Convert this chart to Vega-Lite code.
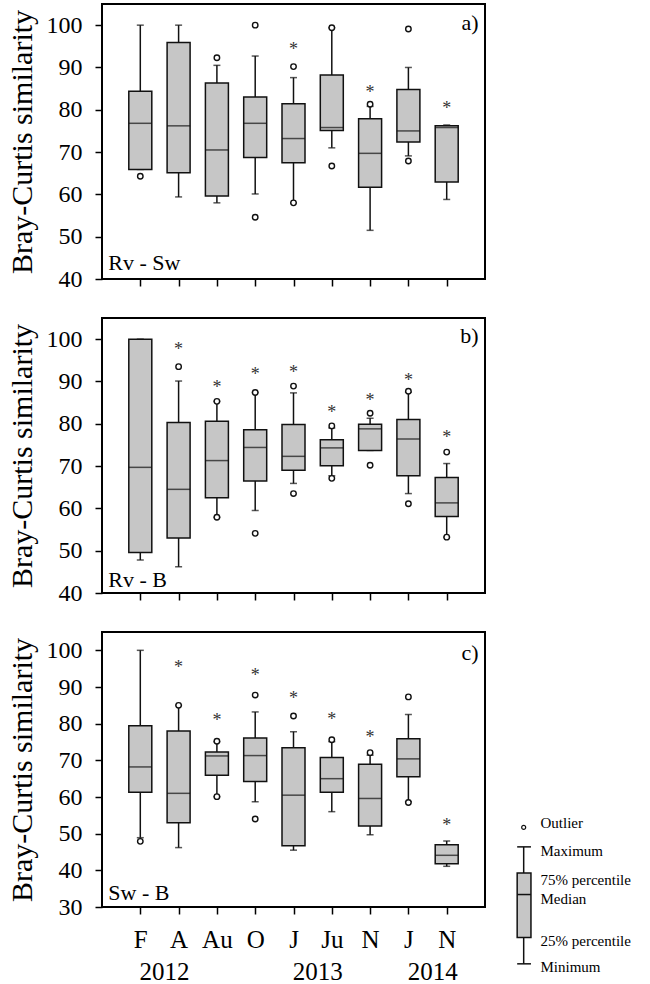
{
  "$schema": "https://vega.github.io/schema/vega-lite/v6.json",
  "background": "white",
  "padding": {"left": 5, "top": 3, "right": 0, "bottom": 0},
  "spacing": 25,
  "config": {
    "view": {"stroke": "#000", "strokeWidth": 2},
    "font": "Liberation Serif",
    "axis": {"domain": false, "grid": false, "tickColor": "#000", "tickWidth": 1.5, "tickSize": 7, "labelFont": "Liberation Serif", "labelFontSize": 24, "labelColor": "#000", "labelPadding": 13, "labelOverlap": false, "titleFont": "Liberation Serif", "titleFontSize": 30, "titleFontWeight": "normal", "titleColor": "#000", "titlePadding": 9},
    "axisX": {"labelAngle": 0},
    "axisY": {"tickCount": 8},
    "text": {"font": "Liberation Serif", "color": "#000"}
  },
  "datasets": {
    "stats": [
      {"panel": "a", "period": "F-2012", "min": 65.9, "q1": 65.9, "med": 76.8, "q3": 84.4, "max": 100},
      {"panel": "a", "period": "A-2012", "min": 59.4, "q1": 65.1, "med": 76.2, "q3": 95.9, "max": 100},
      {"panel": "a", "period": "Au-2012", "min": 58.0, "q1": 59.6, "med": 70.5, "q3": 86.3, "max": 90.5},
      {"panel": "a", "period": "O-2012", "min": 60.1, "q1": 68.7, "med": 76.8, "q3": 83.0, "max": 92.7},
      {"panel": "a", "period": "J-2013", "min": 58.0, "q1": 67.5, "med": 73.2, "q3": 81.4, "max": 87.6},
      {"panel": "a", "period": "Ju-2013", "min": 71.0, "q1": 75.1, "med": 75.8, "q3": 88.2, "max": 99.4},
      {"panel": "a", "period": "N-2013", "min": 51.5, "q1": 61.7, "med": 69.7, "q3": 77.9, "max": 80.8},
      {"panel": "a", "period": "J-2014", "min": 69.1, "q1": 72.4, "med": 75.0, "q3": 84.8, "max": 90.0},
      {"panel": "a", "period": "N-2014", "min": 58.8, "q1": 62.9, "med": 75.8, "q3": 76.2, "max": 76.4},
      {"panel": "b", "period": "F-2012", "min": 47.8, "q1": 49.6, "med": 69.7, "q3": 100, "max": 100},
      {"panel": "b", "period": "A-2012", "min": 46.2, "q1": 53.0, "med": 64.5, "q3": 80.3, "max": 90.1},
      {"panel": "b", "period": "Au-2012", "min": 57.9, "q1": 62.5, "med": 71.3, "q3": 80.6, "max": 85.3},
      {"panel": "b", "period": "O-2012", "min": 59.5, "q1": 66.5, "med": 74.4, "q3": 78.6, "max": 87.4},
      {"panel": "b", "period": "J-2013", "min": 65.9, "q1": 69.0, "med": 72.3, "q3": 79.8, "max": 87.3},
      {"panel": "b", "period": "Ju-2013", "min": 67.7, "q1": 70.1, "med": 74.3, "q3": 76.2, "max": 79.0},
      {"panel": "b", "period": "N-2013", "min": 73.7, "q1": 73.7, "med": 78.8, "q3": 79.9, "max": 81.3},
      {"panel": "b", "period": "J-2014", "min": 63.5, "q1": 67.7, "med": 76.4, "q3": 81.0, "max": 87.5},
      {"panel": "b", "period": "N-2014", "min": 53.2, "q1": 58.1, "med": 61.3, "q3": 67.3, "max": 70.6},
      {"panel": "c", "period": "F-2012", "min": 48.9, "q1": 61.3, "med": 68.2, "q3": 79.4, "max": 100},
      {"panel": "c", "period": "A-2012", "min": 46.2, "q1": 53.0, "med": 61.0, "q3": 78.0, "max": 85.0},
      {"panel": "c", "period": "Au-2012", "min": 60.1, "q1": 65.9, "med": 71.2, "q3": 72.3, "max": 75.1},
      {"panel": "c", "period": "O-2012", "min": 58.7, "q1": 64.2, "med": 71.3, "q3": 76.1, "max": 83.2},
      {"panel": "c", "period": "J-2013", "min": 45.5, "q1": 46.7, "med": 60.5, "q3": 73.4, "max": 77.8},
      {"panel": "c", "period": "Ju-2013", "min": 56.0, "q1": 61.3, "med": 65.0, "q3": 70.8, "max": 75.1},
      {"panel": "c", "period": "N-2013", "min": 49.7, "q1": 52.1, "med": 59.6, "q3": 68.9, "max": 71.4},
      {"panel": "c", "period": "J-2014", "min": 58.7, "q1": 65.5, "med": 70.4, "q3": 75.9, "max": 82.5},
      {"panel": "c", "period": "N-2014", "min": 41.1, "q1": 41.8, "med": 44.1, "q3": 47.0, "max": 48.0}
    ],
    "outliers": [
      {"panel": "a", "period": "F-2012", "value": 64.3},
      {"panel": "a", "period": "Au-2012", "value": 92.3},
      {"panel": "a", "period": "O-2012", "value": 100},
      {"panel": "a", "period": "O-2012", "value": 54.6},
      {"panel": "a", "period": "J-2013", "value": 90.2},
      {"panel": "a", "period": "J-2013", "value": 58.0},
      {"panel": "a", "period": "Ju-2013", "value": 99.4},
      {"panel": "a", "period": "Ju-2013", "value": 66.7},
      {"panel": "a", "period": "N-2013", "value": 81.3},
      {"panel": "a", "period": "J-2014", "value": 99.1},
      {"panel": "a", "period": "J-2014", "value": 67.9},
      {"panel": "b", "period": "A-2012", "value": 93.5},
      {"panel": "b", "period": "Au-2012", "value": 85.3},
      {"panel": "b", "period": "Au-2012", "value": 57.9},
      {"panel": "b", "period": "O-2012", "value": 87.4},
      {"panel": "b", "period": "O-2012", "value": 54.1},
      {"panel": "b", "period": "J-2013", "value": 88.9},
      {"panel": "b", "period": "J-2013", "value": 63.5},
      {"panel": "b", "period": "Ju-2013", "value": 79.5},
      {"panel": "b", "period": "Ju-2013", "value": 67.1},
      {"panel": "b", "period": "N-2013", "value": 82.5},
      {"panel": "b", "period": "N-2013", "value": 70.2},
      {"panel": "b", "period": "J-2014", "value": 87.7},
      {"panel": "b", "period": "J-2014", "value": 61.1},
      {"panel": "b", "period": "N-2014", "value": 73.3},
      {"panel": "b", "period": "N-2014", "value": 53.2},
      {"panel": "c", "period": "F-2012", "value": 47.9},
      {"panel": "c", "period": "A-2012", "value": 85.0},
      {"panel": "c", "period": "Au-2012", "value": 75.2},
      {"panel": "c", "period": "Au-2012", "value": 60.1},
      {"panel": "c", "period": "O-2012", "value": 87.8},
      {"panel": "c", "period": "O-2012", "value": 54.0},
      {"panel": "c", "period": "J-2013", "value": 82.1},
      {"panel": "c", "period": "Ju-2013", "value": 75.6},
      {"panel": "c", "period": "N-2013", "value": 72.1},
      {"panel": "c", "period": "J-2014", "value": 87.3},
      {"panel": "c", "period": "J-2014", "value": 58.5}
    ],
    "stars": [
      {"panel": "a", "period": "J-2013", "value": 95.1},
      {"panel": "a", "period": "N-2013", "value": 84.8},
      {"panel": "a", "period": "N-2014", "value": 81.1},
      {"panel": "b", "period": "A-2012", "value": 98.4},
      {"panel": "b", "period": "Au-2012", "value": 89.3},
      {"panel": "b", "period": "O-2012", "value": 92.5},
      {"panel": "b", "period": "J-2013", "value": 92.9},
      {"panel": "b", "period": "Ju-2013", "value": 83.6},
      {"panel": "b", "period": "N-2013", "value": 86.3},
      {"panel": "b", "period": "J-2014", "value": 91.1},
      {"panel": "b", "period": "N-2014", "value": 77.5},
      {"panel": "c", "period": "A-2012", "value": 96.4},
      {"panel": "c", "period": "Au-2012", "value": 81.9},
      {"panel": "c", "period": "O-2012", "value": 94.1},
      {"panel": "c", "period": "J-2013", "value": 87.9},
      {"panel": "c", "period": "Ju-2013", "value": 82.0},
      {"panel": "c", "period": "N-2013", "value": 77.1},
      {"panel": "c", "period": "N-2014", "value": 53.3}
    ],
    "labels": [
      {"panel": "a", "corner": "a)", "pair": "Rv - Sw"},
      {"panel": "b", "corner": "b)", "pair": "Rv - B"},
      {"panel": "c", "corner": "c)", "pair": "Sw - B"}
    ],
    "years": [
      {"year": "2012", "period": "A-2012"},
      {"year": "2013", "period": "Ju-2013"},
      {"year": "2014", "period": "N-2014"}
    ],
    "legendBox": [
      {"min": 14.5, "q1": 21.7, "med": 33.4, "q3": 39.3, "max": 46.4, "outlier": 51.7}
    ],
    "legendText": [
      {"label": "Outlier", "v": 52.9},
      {"label": "Maximum", "v": 45.4},
      {"label": "75% percentile", "v": 37.4},
      {"label": "Median", "v": 32.2},
      {"label": "25% percentile", "v": 20.8},
      {"label": "Minimum", "v": 13.6}
    ]
  },
  "vconcat": [
    {
      "width": 383, "height": 275,
      "layer": [
        {"data": {"name": "stats"}, "transform": [{"filter": "datum.panel=='a'"}], "mark": {"type": "rule", "color": "#111", "strokeWidth": 1.5},
         "encoding": {"x": {"field": "period", "type": "nominal", "scale": {"type": "point", "padding": 1, "domain": ["F-2012", "A-2012", "Au-2012", "O-2012", "J-2013", "Ju-2013", "N-2013", "J-2014", "N-2014"]}, "axis": {"title": null, "labels": false}},
                      "y": {"field": "min", "type": "quantitative", "scale": {"domain": [40, 105], "nice": false, "zero": false}, "axis": {"values": [40, 50, 60, 70, 80, 90, 100], "tickCount": 8, "labelOverlap": false, "title": "Bray-Curtis similarity"}},
                      "y2": {"field": "max"}}},
        {"data": {"name": "stats"}, "transform": [{"filter": "datum.panel=='a'"}], "mark": {"type": "tick", "color": "#111", "thickness": 1.5, "size": 7},
         "encoding": {"x": {"field": "period", "type": "nominal", "title": null}, "y": {"field": "min", "type": "quantitative", "axis": {"values": [40, 50, 60, 70, 80, 90, 100], "tickCount": 8, "labelOverlap": false, "title": "Bray-Curtis similarity"}}}},
        {"data": {"name": "stats"}, "transform": [{"filter": "datum.panel=='a'"}], "mark": {"type": "tick", "color": "#111", "thickness": 1.5, "size": 7},
         "encoding": {"x": {"field": "period", "type": "nominal", "title": null}, "y": {"field": "max", "type": "quantitative", "axis": {"values": [40, 50, 60, 70, 80, 90, 100], "tickCount": 8, "labelOverlap": false, "title": "Bray-Curtis similarity"}}}},
        {"data": {"name": "stats"}, "transform": [{"filter": "datum.panel=='a'"}], "mark": {"type": "bar", "fill": "#c6c6c6", "stroke": "#111", "strokeWidth": 1.5, "size": 23},
         "encoding": {"x": {"field": "period", "type": "nominal", "title": null}, "y": {"field": "q1", "type": "quantitative", "axis": {"values": [40, 50, 60, 70, 80, 90, 100], "tickCount": 8, "labelOverlap": false, "title": "Bray-Curtis similarity"}}, "y2": {"field": "q3"}}},
        {"data": {"name": "stats"}, "transform": [{"filter": "datum.panel=='a'"}], "mark": {"type": "tick", "color": "#111", "thickness": 1.5, "size": 23},
         "encoding": {"x": {"field": "period", "type": "nominal", "title": null}, "y": {"field": "med", "type": "quantitative", "axis": {"values": [40, 50, 60, 70, 80, 90, 100], "tickCount": 8, "labelOverlap": false, "title": "Bray-Curtis similarity"}}}},
        {"data": {"name": "outliers"}, "transform": [{"filter": "datum.panel=='a'"}], "mark": {"type": "point", "shape": "circle", "fill": "white", "stroke": "#111", "strokeWidth": 1.4, "size": 30, "opacity": 1},
         "encoding": {"x": {"field": "period", "type": "nominal", "title": null}, "y": {"field": "value", "type": "quantitative", "axis": {"values": [40, 50, 60, 70, 80, 90, 100], "tickCount": 8, "labelOverlap": false, "title": "Bray-Curtis similarity"}}}},
        {"data": {"name": "stars"}, "transform": [{"filter": "datum.panel=='a'"}], "mark": {"type": "text", "text": "*", "fontSize": 18, "color": "#333", "baseline": "alphabetic", "dy": 9},
         "encoding": {"x": {"field": "period", "type": "nominal", "title": null}, "y": {"field": "value", "type": "quantitative", "axis": {"values": [40, 50, 60, 70, 80, 90, 100], "tickCount": 8, "labelOverlap": false, "title": "Bray-Curtis similarity"}}}},
        {"data": {"name": "labels"}, "transform": [{"filter": "datum.panel=='a'"}], "mark": {"type": "text", "fontSize": 22, "align": "right", "baseline": "middle", "dx": 32},
         "encoding": {"x": {"datum": "N-2014", "type": "nominal"}, "y": {"datum": 100.5, "type": "quantitative", "axis": {"values": [40, 50, 60, 70, 80, 90, 100], "tickCount": 8, "labelOverlap": false, "title": "Bray-Curtis similarity"}}, "text": {"field": "corner"}}},
        {"data": {"name": "labels"}, "transform": [{"filter": "datum.panel=='a'"}], "mark": {"type": "text", "fontSize": 22, "align": "left", "baseline": "middle", "dx": -32},
         "encoding": {"x": {"datum": "F-2012", "type": "nominal"}, "y": {"datum": 43.8, "type": "quantitative", "axis": {"values": [40, 50, 60, 70, 80, 90, 100], "tickCount": 8, "labelOverlap": false, "title": "Bray-Curtis similarity"}}, "text": {"field": "pair"}}}
      ]
    },
    {
      "width": 383, "height": 275,
      "layer": [
        {"data": {"name": "stats"}, "transform": [{"filter": "datum.panel=='b'"}], "mark": {"type": "rule", "color": "#111", "strokeWidth": 1.5},
         "encoding": {"x": {"field": "period", "type": "nominal", "scale": {"type": "point", "padding": 1, "domain": ["F-2012", "A-2012", "Au-2012", "O-2012", "J-2013", "Ju-2013", "N-2013", "J-2014", "N-2014"]}, "axis": {"title": null, "labels": false}},
                      "y": {"field": "min", "type": "quantitative", "scale": {"domain": [40, 105], "nice": false, "zero": false}, "axis": {"values": [40, 50, 60, 70, 80, 90, 100], "tickCount": 8, "labelOverlap": false, "title": "Bray-Curtis similarity"}},
                      "y2": {"field": "max"}}},
        {"data": {"name": "stats"}, "transform": [{"filter": "datum.panel=='b'"}], "mark": {"type": "tick", "color": "#111", "thickness": 1.5, "size": 7},
         "encoding": {"x": {"field": "period", "type": "nominal", "title": null}, "y": {"field": "min", "type": "quantitative", "axis": {"values": [40, 50, 60, 70, 80, 90, 100], "tickCount": 8, "labelOverlap": false, "title": "Bray-Curtis similarity"}}}},
        {"data": {"name": "stats"}, "transform": [{"filter": "datum.panel=='b'"}], "mark": {"type": "tick", "color": "#111", "thickness": 1.5, "size": 7},
         "encoding": {"x": {"field": "period", "type": "nominal", "title": null}, "y": {"field": "max", "type": "quantitative", "axis": {"values": [40, 50, 60, 70, 80, 90, 100], "tickCount": 8, "labelOverlap": false, "title": "Bray-Curtis similarity"}}}},
        {"data": {"name": "stats"}, "transform": [{"filter": "datum.panel=='b'"}], "mark": {"type": "bar", "fill": "#c6c6c6", "stroke": "#111", "strokeWidth": 1.5, "size": 23},
         "encoding": {"x": {"field": "period", "type": "nominal", "title": null}, "y": {"field": "q1", "type": "quantitative", "axis": {"values": [40, 50, 60, 70, 80, 90, 100], "tickCount": 8, "labelOverlap": false, "title": "Bray-Curtis similarity"}}, "y2": {"field": "q3"}}},
        {"data": {"name": "stats"}, "transform": [{"filter": "datum.panel=='b'"}], "mark": {"type": "tick", "color": "#111", "thickness": 1.5, "size": 23},
         "encoding": {"x": {"field": "period", "type": "nominal", "title": null}, "y": {"field": "med", "type": "quantitative", "axis": {"values": [40, 50, 60, 70, 80, 90, 100], "tickCount": 8, "labelOverlap": false, "title": "Bray-Curtis similarity"}}}},
        {"data": {"name": "outliers"}, "transform": [{"filter": "datum.panel=='b'"}], "mark": {"type": "point", "shape": "circle", "fill": "white", "stroke": "#111", "strokeWidth": 1.4, "size": 30, "opacity": 1},
         "encoding": {"x": {"field": "period", "type": "nominal", "title": null}, "y": {"field": "value", "type": "quantitative", "axis": {"values": [40, 50, 60, 70, 80, 90, 100], "tickCount": 8, "labelOverlap": false, "title": "Bray-Curtis similarity"}}}},
        {"data": {"name": "stars"}, "transform": [{"filter": "datum.panel=='b'"}], "mark": {"type": "text", "text": "*", "fontSize": 18, "color": "#333", "baseline": "alphabetic", "dy": 9},
         "encoding": {"x": {"field": "period", "type": "nominal", "title": null}, "y": {"field": "value", "type": "quantitative", "axis": {"values": [40, 50, 60, 70, 80, 90, 100], "tickCount": 8, "labelOverlap": false, "title": "Bray-Curtis similarity"}}}},
        {"data": {"name": "labels"}, "transform": [{"filter": "datum.panel=='b'"}], "mark": {"type": "text", "fontSize": 22, "align": "right", "baseline": "middle", "dx": 32},
         "encoding": {"x": {"datum": "N-2014", "type": "nominal"}, "y": {"datum": 100.7, "type": "quantitative", "axis": {"values": [40, 50, 60, 70, 80, 90, 100], "tickCount": 8, "labelOverlap": false, "title": "Bray-Curtis similarity"}}, "text": {"field": "corner"}}},
        {"data": {"name": "labels"}, "transform": [{"filter": "datum.panel=='b'"}], "mark": {"type": "text", "fontSize": 22, "align": "left", "baseline": "middle", "dx": -32},
         "encoding": {"x": {"datum": "F-2012", "type": "nominal"}, "y": {"datum": 43.1, "type": "quantitative", "axis": {"values": [40, 50, 60, 70, 80, 90, 100], "tickCount": 8, "labelOverlap": false, "title": "Bray-Curtis similarity"}}, "text": {"field": "pair"}}}
      ]
    },
    {
      "width": 383, "height": 275,
      "resolve": {"scale": {"x": "independent"}},
      "layer": [
        {"data": {"name": "stats"}, "transform": [{"filter": "datum.panel=='c'"}], "mark": {"type": "rule", "color": "#111", "strokeWidth": 1.5},
         "encoding": {"x": {"field": "period", "type": "nominal", "scale": {"type": "point", "padding": 1, "domain": ["F-2012", "A-2012", "Au-2012", "O-2012", "J-2013", "Ju-2013", "N-2013", "J-2014", "N-2014"]}, "axis": {"title": null, "labelExpr": "split(datum.label,'-')[0]", "labelFontSize": 25, "labelPadding": 13}},
                      "y": {"field": "min", "type": "quantitative", "scale": {"domain": [30, 105], "nice": false, "zero": false}, "axis": {"values": [30, 40, 50, 60, 70, 80, 90, 100], "tickCount": 8, "labelOverlap": false, "title": "Bray-Curtis similarity"}},
                      "y2": {"field": "max"}}},
        {"data": {"name": "stats"}, "transform": [{"filter": "datum.panel=='c'"}], "mark": {"type": "tick", "color": "#111", "thickness": 1.5, "size": 7},
         "encoding": {"x": {"field": "period", "type": "nominal", "scale": {"type": "point", "padding": 1, "domain": ["F-2012", "A-2012", "Au-2012", "O-2012", "J-2013", "Ju-2013", "N-2013", "J-2014", "N-2014"]}, "axis": null}, "y": {"field": "min", "type": "quantitative", "axis": {"values": [30, 40, 50, 60, 70, 80, 90, 100], "tickCount": 8, "labelOverlap": false, "title": "Bray-Curtis similarity"}}}},
        {"data": {"name": "stats"}, "transform": [{"filter": "datum.panel=='c'"}], "mark": {"type": "tick", "color": "#111", "thickness": 1.5, "size": 7},
         "encoding": {"x": {"field": "period", "type": "nominal", "scale": {"type": "point", "padding": 1, "domain": ["F-2012", "A-2012", "Au-2012", "O-2012", "J-2013", "Ju-2013", "N-2013", "J-2014", "N-2014"]}, "axis": null}, "y": {"field": "max", "type": "quantitative", "axis": {"values": [30, 40, 50, 60, 70, 80, 90, 100], "tickCount": 8, "labelOverlap": false, "title": "Bray-Curtis similarity"}}}},
        {"data": {"name": "stats"}, "transform": [{"filter": "datum.panel=='c'"}], "mark": {"type": "bar", "fill": "#c6c6c6", "stroke": "#111", "strokeWidth": 1.5, "size": 23},
         "encoding": {"x": {"field": "period", "type": "nominal", "scale": {"type": "point", "padding": 1, "domain": ["F-2012", "A-2012", "Au-2012", "O-2012", "J-2013", "Ju-2013", "N-2013", "J-2014", "N-2014"]}, "axis": null}, "y": {"field": "q1", "type": "quantitative", "axis": {"values": [30, 40, 50, 60, 70, 80, 90, 100], "tickCount": 8, "labelOverlap": false, "title": "Bray-Curtis similarity"}}, "y2": {"field": "q3"}}},
        {"data": {"name": "stats"}, "transform": [{"filter": "datum.panel=='c'"}], "mark": {"type": "tick", "color": "#111", "thickness": 1.5, "size": 23},
         "encoding": {"x": {"field": "period", "type": "nominal", "scale": {"type": "point", "padding": 1, "domain": ["F-2012", "A-2012", "Au-2012", "O-2012", "J-2013", "Ju-2013", "N-2013", "J-2014", "N-2014"]}, "axis": null}, "y": {"field": "med", "type": "quantitative", "axis": {"values": [30, 40, 50, 60, 70, 80, 90, 100], "tickCount": 8, "labelOverlap": false, "title": "Bray-Curtis similarity"}}}},
        {"data": {"name": "outliers"}, "transform": [{"filter": "datum.panel=='c'"}], "mark": {"type": "point", "shape": "circle", "fill": "white", "stroke": "#111", "strokeWidth": 1.4, "size": 30, "opacity": 1},
         "encoding": {"x": {"field": "period", "type": "nominal", "scale": {"type": "point", "padding": 1, "domain": ["F-2012", "A-2012", "Au-2012", "O-2012", "J-2013", "Ju-2013", "N-2013", "J-2014", "N-2014"]}, "axis": null}, "y": {"field": "value", "type": "quantitative", "axis": {"values": [30, 40, 50, 60, 70, 80, 90, 100], "tickCount": 8, "labelOverlap": false, "title": "Bray-Curtis similarity"}}}},
        {"data": {"name": "stars"}, "transform": [{"filter": "datum.panel=='c'"}], "mark": {"type": "text", "text": "*", "fontSize": 18, "color": "#333", "baseline": "alphabetic", "dy": 9},
         "encoding": {"x": {"field": "period", "type": "nominal", "scale": {"type": "point", "padding": 1, "domain": ["F-2012", "A-2012", "Au-2012", "O-2012", "J-2013", "Ju-2013", "N-2013", "J-2014", "N-2014"]}, "axis": null}, "y": {"field": "value", "type": "quantitative", "axis": {"values": [30, 40, 50, 60, 70, 80, 90, 100], "tickCount": 8, "labelOverlap": false, "title": "Bray-Curtis similarity"}}}},
        {"data": {"name": "labels"}, "transform": [{"filter": "datum.panel=='c'"}], "mark": {"type": "text", "fontSize": 22, "align": "right", "baseline": "middle", "dx": 32},
         "encoding": {"x": {"datum": "N-2014", "type": "nominal", "scale": {"type": "point", "padding": 1, "domain": ["F-2012", "A-2012", "Au-2012", "O-2012", "J-2013", "Ju-2013", "N-2013", "J-2014", "N-2014"]}, "axis": null}, "y": {"datum": 99.4, "type": "quantitative", "axis": {"values": [30, 40, 50, 60, 70, 80, 90, 100], "tickCount": 8, "labelOverlap": false, "title": "Bray-Curtis similarity"}}, "text": {"field": "corner"}}},
        {"data": {"name": "labels"}, "transform": [{"filter": "datum.panel=='c'"}], "mark": {"type": "text", "fontSize": 22, "align": "left", "baseline": "middle", "dx": -32},
         "encoding": {"x": {"datum": "F-2012", "type": "nominal", "scale": {"type": "point", "padding": 1, "domain": ["F-2012", "A-2012", "Au-2012", "O-2012", "J-2013", "Ju-2013", "N-2013", "J-2014", "N-2014"]}, "axis": null}, "y": {"datum": 33.8, "type": "quantitative", "axis": {"values": [30, 40, 50, 60, 70, 80, 90, 100], "tickCount": 8, "labelOverlap": false, "title": "Bray-Curtis similarity"}}, "text": {"field": "pair"}}},
        {"data": {"name": "years"}, "mark": {"type": "text", "fontSize": 25, "align": "center", "baseline": "middle", "dx": -14},
         "encoding": {"x": {"field": "period", "type": "nominal", "scale": {"type": "point", "padding": 1, "domain": ["F-2012", "A-2012", "Au-2012", "O-2012", "J-2013", "Ju-2013", "N-2013", "J-2014", "N-2014"]}, "axis": null}, "y": {"datum": 12.3, "type": "quantitative", "axis": {"values": [30, 40, 50, 60, 70, 80, 90, 100], "tickCount": 8, "labelOverlap": false, "title": "Bray-Curtis similarity"}}, "text": {"field": "year"}}},
        {"data": {"name": "legendBox"}, "mark": {"type": "rule", "color": "#111", "strokeWidth": 1.5},
         "encoding": {"x": {"datum": 11.01, "type": "quantitative", "scale": {"domain": [0, 10], "nice": false, "zero": false}, "axis": null}, "y": {"field": "min", "type": "quantitative", "axis": {"values": [30, 40, 50, 60, 70, 80, 90, 100], "tickCount": 8, "labelOverlap": false, "title": "Bray-Curtis similarity"}}, "y2": {"field": "max"}}},
        {"data": {"name": "legendBox"}, "mark": {"type": "rule", "color": "#111", "strokeWidth": 1.5},
         "encoding": {"x": {"datum": 10.84, "type": "quantitative", "scale": {"domain": [0, 10], "nice": false, "zero": false}, "axis": null}, "x2": {"datum": 11.2}, "y": {"field": "max", "type": "quantitative", "axis": {"values": [30, 40, 50, 60, 70, 80, 90, 100], "tickCount": 8, "labelOverlap": false, "title": "Bray-Curtis similarity"}}}},
        {"data": {"name": "legendBox"}, "mark": {"type": "rule", "color": "#111", "strokeWidth": 1.5},
         "encoding": {"x": {"datum": 10.84, "type": "quantitative", "scale": {"domain": [0, 10], "nice": false, "zero": false}, "axis": null}, "x2": {"datum": 11.2}, "y": {"field": "min", "type": "quantitative", "axis": {"values": [30, 40, 50, 60, 70, 80, 90, 100], "tickCount": 8, "labelOverlap": false, "title": "Bray-Curtis similarity"}}}},
        {"data": {"name": "legendBox"}, "mark": {"type": "bar", "fill": "#c6c6c6", "stroke": "#111", "strokeWidth": 1.5},
         "encoding": {"x": {"datum": 10.84, "type": "quantitative", "scale": {"domain": [0, 10], "nice": false, "zero": false}, "axis": null}, "x2": {"datum": 11.2}, "y": {"field": "q1", "type": "quantitative", "axis": {"values": [30, 40, 50, 60, 70, 80, 90, 100], "tickCount": 8, "labelOverlap": false, "title": "Bray-Curtis similarity"}}, "y2": {"field": "q3"}}},
        {"data": {"name": "legendBox"}, "mark": {"type": "rule", "color": "#111", "strokeWidth": 1.5},
         "encoding": {"x": {"datum": 10.84, "type": "quantitative", "scale": {"domain": [0, 10], "nice": false, "zero": false}, "axis": null}, "x2": {"datum": 11.2}, "y": {"field": "med", "type": "quantitative", "axis": {"values": [30, 40, 50, 60, 70, 80, 90, 100], "tickCount": 8, "labelOverlap": false, "title": "Bray-Curtis similarity"}}}},
        {"data": {"name": "legendBox"}, "mark": {"type": "point", "shape": "circle", "fill": "white", "stroke": "#111", "strokeWidth": 1.2, "size": 16, "opacity": 1},
         "encoding": {"x": {"datum": 11.01, "type": "quantitative", "scale": {"domain": [0, 10], "nice": false, "zero": false}, "axis": null}, "y": {"field": "outlier", "type": "quantitative", "axis": {"values": [30, 40, 50, 60, 70, 80, 90, 100], "tickCount": 8, "labelOverlap": false, "title": "Bray-Curtis similarity"}}}},
        {"data": {"name": "legendText"}, "mark": {"type": "text", "fontSize": 15, "align": "left", "baseline": "middle"},
         "encoding": {"x": {"datum": 11.45, "type": "quantitative", "scale": {"domain": [0, 10], "nice": false, "zero": false}, "axis": null}, "y": {"field": "v", "type": "quantitative", "axis": {"values": [30, 40, 50, 60, 70, 80, 90, 100], "tickCount": 8, "labelOverlap": false, "title": "Bray-Curtis similarity"}}, "text": {"field": "label"}}}
      ]
    }
  ]
}
